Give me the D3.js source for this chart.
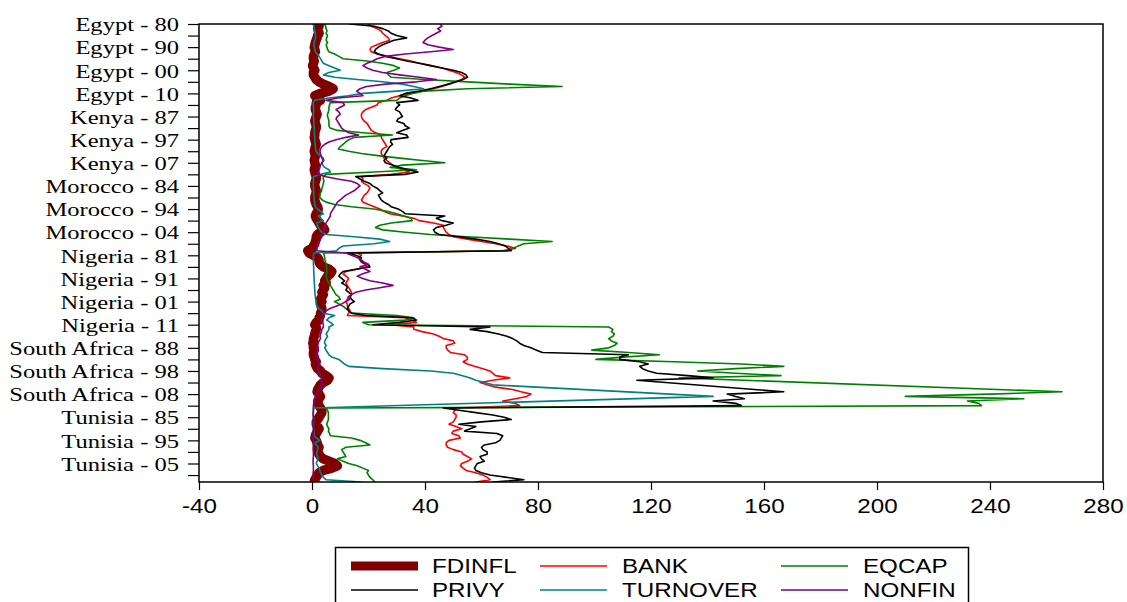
<!DOCTYPE html>
<html>
<head>
<meta charset="utf-8">
<script src="https://cdn.jsdelivr.net/npm/d3@7"></script>
<style>
  body { margin: 0; background: #fff; }
  svg { display: block; }
</style>
</head>
<body>
<svg id="chart" width="1127" height="602"></svg>
<script>
// Panel of country-year observations, one row per year
const countries = ["Egypt", "Kenya", "Morocco", "Nigeria", "South Africa", "Tunisia"];
const firstYear = [1980, 1981, 1980, 1980, 1980, 1981];
const lastYear  = [2013, 2012, 2012, 2012, 2013, 2013];

const xTicks = [-40, 0, 40, 80, 120, 160, 200, 240, 280];
const seriesNames = ["FDINFL", "BANK", "EQCAP", "PRIVY", "TURNOVER", "NONFIN"];

// values per series, one line per country (null = no observation)
const fdinfl = [
  2.5, 2.5, 2, 2.2, 2.5, 2, 1.8, 1.5, 1.2, 1, 0.8, 1, 1.2, 0.8, 0.5, 0.5, 0.8, 0.5, 0.2, 0.5, 1, 0.5, 0.5, 1, 1.5, 2.5, 4, 6, 7.5, 6, 3, 1, 2, 3,
  1.5, 1.5, 1.2, 1.2, 1.5, 1.8, 1.5, 1.2, 1, 1.2, 1.5, 1.5, 1.2, 1, 1, 0.8, 1, 1.2, 1.5, 1.2, 1, 0.8, 1, 1.2, 1, 0.8, 1, 1.2, 1, 0.8, 1, 1.2,
  1.5, 1.5, 1.2, 1, 1, 1.2, 1.5, 1.5, 1.2, 1, 1, 1.2, 1.5, 2, 2.2, 2, 1.5, 1.2, 1.5, 2, 2.5, 3, 4, 4.5, 3, 2, 1.5, 1.5, 1.2, 1, 0.5, 0, -1.5,
  -1, 0.5, 2, 2.5, 2.5, 3, 4, 6, 7, 6.5, 5.5, 5, 4.5, 5, 4, 4.5, 4, 3.5, 4, 3.5, 3, 3.5, 3, 3.2, 3.5, 3.5, 3, 3, 2.5, 2.5, 1.5, 1, 1.5,
  1.5, 1.2, 1, 0.8, 0.5, 0.5, 0.3, 0.5, 0.5, 0.8, 0.5, 0.5, 0.8, 1, 1.5, 1.2, 1.5, 2, 3, 3.5, 5, 6, 5.5, 4, 3, 2.5, 2, 1.8, 2.5, 3, 2.5, 2, 2.2, 2.5,
  3, 3.5, 3.5, 3, 2.5, 2, 1.5, 1.5, 2, 2.5, 2, 1.5, 1.2, 1, 1.5, 1.8, 2, 2.5, 2.2, 2, 2.5, 3, 4, 6, 8, 9, 7, 4, 2.5, 2, 1.5, 1, 0.8
];
const bank = [
  20, 21, 23, 24.5, 25, 26, 27, 27.5, 25, 23, 21, 20.5, 21, 23, 27, 31, 35, 38, 42, 46, 48.5, 51, 53, 54, 53, 51, 48, 46, 43, 39, 35, 31, 28, 26.5,
  23.5, 23, 21, 19, 18, 17.5, 17.5, 17.8, 18.5, 19.5, 20, 20.5, 21, 22.5, 24.5, 24.5, 25, 25.5, 26, 26.5, 25, 24.5, 24.5, 25, 25.5, 26.5, 27.5, 28.5, 30, 32, 34.5, 28,
  17.5, 18, 17.5, 18.5, 20, 20.5, 20, 19.5, 18.5, 18, 17.5, 18, 20, 22, 24, 25.5, 27.5, 32, 36, 38, 43, 46.5, 46.5, 47, 47.5, 48.5, 50, 55, 60, 65, 69, 72, 67.5,
  16, 17.5, 16.5, 17, 17.5, 19, 19.5, 16, 12, 11, 12, 13, 12.5, 12, 12.5, 13, 13.5, 14, 14, 13, 12.5, 12, 12.5, 12.5, 13, 13.5, 13, 12.5, 33, 35.5, 37, 27.5, 36,
  36, 39, 43, 45, 46.5, 50, 50.5, 47.5, 47.5, 48, 49, 54, 55, 55, 53.5, 55, 57.5, 60.5, 63, 64, 65, 70, 64, 59.5, 62, 65, 71, 74, 77.5, 76, 72, 67.5, 72, 73.5,
  51, 50.5, 50, 51, 51, 50.5, 50, 48.5, 51, 53, 50, 49.5, 52, 52.5, 48.5, 47.5, 47.5, 48, 50, 53, 53.5, 55, 56.5, 55, 53, 52.5, 53.5, 54.5, 58, 60.5, 62, 63, 58
];
const eqcap = [
  4.5, 4.8, 5, 5.3, 5, 5.5, 5.2, 5, 5.5, 5, 5.3, 5.5, 6, 8, 9.5, 11, 19.5, 25, 29, 31, 29, 26.5, 27, 28, 40, 55, 70, 88.5, 55, 40, 35.5, 33, 31, 30,
  6.5, 6.2, 6, 6, 5.8, 5.5, 5.5, 5.8, 6, 6, 6, 6.4, 9, 18, 28.5, 15, 13, 12, 11, 10, 9.3, 13, 17.5, 24, 31, 39, 47, 32, 27.6, 37, 22, 5,
  4, 4, 4.2, 4, 3.8, 3.5, 3.4, 3, 2.8, 2.8, 3.5, 5, 8, 14, 22, 26.5, 30, 32.5, 35, 35.5, 28, 24, 22.5, 25, 33, 42, 55, 70, 85, 75, 73, 71, 69,
  4, 4.3, 4.5, 4.6, 4.8, 5, 5.2, 5.2, 5.3, 5.2, 5, 5.2, 5.5, 6, 6.5, 7, 7.5, 8, 8.5, 9.5, 10, 8, 9.5, 11, 12, 13, 14, 30, 36, 33, 18, 20, 105,
  106.5, 106, 107, 106.5, 105, 106, 108, 107, 105, 99, 112, 123, 110, 100.5, 128, 152, 167, 150, 136.5, 150, 166, 130, null, null, null, null, null, 265.5, 240, 210, 252, 232, 236, 237,
  5, 5.5, 5.8, 5.8, 5.8, 5.8, 5.5, 5.2, 5.5, 6, 5.8, 6.2, 6.5, 14, 17, 19, 20.5, 12, 10.5, 11, 11.5, 12, 9, 11, 13, 16, 18, 20, 19.5, 20, 20.5, 21.5, 22.3
];
const privy = [
  13.5, 22, 25, 27, 28, 30, 33.5, 29, 27, 25, 23.5, 22.5, 22, 23.5, 26, 30, 33.5, 38, 42, 46, 50, 53, 54.5, 55, 53.5, 51, 48.5, 45, 42, 38, 33, 31, 35, 37.5,
  30, 31, 30, 29.5, 31, 31.5, 32, 30.5, 30, 32.5, 33, 34.5, 32, 30, 33.5, 34, 28, 27.8, 28.5, 27.5, 27, 26.5, 26, 25.5, 26.5, 25.5, 26, 28.5, 31, 34, 37.5, 33,
  15.5, 17, 18.5, 20.5, 21.5, 23, 24, 25, 23.5, 24, 24.5, 25.5, 27, 28, 30.5, 32, 33, 47, 44, 46, 50, 47.5, 44, 43, 43.5, 45, 52, 58, 63, 66, 68.5, 69.5, 70.5,
  12.5, 15.5, 17.5, 17, 18, 20, 20.5, 15.5, 11, 10, 9.5, 10.5, 11.5, 10.5, 12, 12.5, 12, 13, 14, 13.5, 14, 15, 13.5, 13, 12.5, 13, 14, 19, 35.5, 37, 31, 21.5, 63,
  56, 62, 66, 69, 71, 72.5, 73.5, 75, 77.5, 79.5, 81.5, 112, 109, 109, 116, 119, 116, 117, 119, 122, 133, 142, 115, null, null, null, null, 167, 147, 150, 153, 142, 150, 152,
  46.5, 52, 58, 64, 68, 70.5, 60, 52, 58, 56, 54, 65.5, 67.5, 67, 66.5, 65, 61, 60, 60.5, 62, 62, 59.5, 60, 61, 58.5, 58, 57.5, 58, 60, 63, 69, 75, 64
];
const turnover = [
  0.5, 0.6, 0.8, 1, 1.2, 1.3, 1.2, 1, 0.8, 0.7, 0.8, 1, 1.2, 1.8, 2.5, 3, 3.5, 4, 6, 8, 10, 6, 4, 8, 16, 25, 32, 36, 39.5, 30, 18, 12.8, 6, 1,
  0.5, 0.5, 0.5, 0.6, 0.6, 0.5, 0.5, 0.6, 0.6, 0.7, 0.7, 0.8, 0.8, 0.9, 0.9, 1, 1, 1, 1.1, 1.2, 1.3, 1.5, 2, 3, 4, 4.2, 3.5, 3.8, 4.5, 6, 6.5, 3,
  0.5, 0.5, 0.5, 0.5, 0.5, 0.5, 0.6, 0.6, 0.6, 0.7, 0.8, 0.9, 1, 1.2, 2, 3, 4, 2.2, 3, 4, 1.6, 2, 2.2, 2.8, 3.4, 5, 15, 24, 27.5, 22, 11, 9.5, 8.7,
  0.6, 0.5, 0.5, 0.5, 0.5, 0.5, 0.6, 0.6, 0.6, 0.7, 0.7, 0.7, 0.8, 0.8, 0.9, 0.9, 1, 1, 1.1, 1.2, 1.3, 1.4, 1.5, 1.8, 2.5, 3.5, 4, 8, 6, 5.2, 6.5, 7.5, 6,
  6, 5.5, 5, 5.5, 5, 4.5, 4.5, 5, 4.5, 5, 5.5, 6, 7, 9.5, 10.5, 11.5, 13, 25, 42, 50, 53, 56, 58, 61, 64, null, null, null, null, 142, null, null, null, null,
  0.5, 0.5, 0.5, 0.5, 0.5, 0.5, 0.5, 0.5, 0.5, 0.5, 0.6, 0.7, 0.8, 1.5, 2.8, 1, 1.5, 2.2, 2, 1.8, 1.6, 2, 2.2, 1.8, 1.5, 2, 2.5, 2.8, 3, 3.5, 4, 5, 17.5
];
const nonfin = [
  45.5, 46, 44.5, 45.5, 44, 42.5, 41, 40, 39.3, 41, 45, 50, 42, 33, 26, 23, 21.5, 19.5, 18, 19.5, 21.5, 25, 31, 38, 44, 37, 26, 19.3, 17, 15.8, 17, 18, 9, 5,
  11, 11.5, 10, 8.5, 9.5, 10, 9, 8.5, 9, 9.5, 10, 10.5, 11.5, 13, 16.5, 12, 8.5, 6, 4.5, 3.5, 3, 2.8, 3, 3.2, 3.5, 4, 3.5, 3, 2.8, 2.5, 2.2, 2,
  5, 9, 14, 16, 17, 16, 15, 13.5, 12, 11, 10, 9, 8.5, 8, 7.5, 7, 6.5, 6.5, 6, 5.5, 5, 4.5, 4.5, 4, 3.8, 3.5, 3.5, 3, 2.5, 2.2, 2, 1.8, 1.6,
  12, 14, 16, 17.5, 18.5, 20, 17, 19, 20.5, 18, 16, 18, 20.5, 25, 28.7, 24, 19, 15.5, 14, 12.8, 13.4, 12, 10.5, 8.5, 6.4, 5, 4, 3.5, 3.5, 3.3, 3.8, 4, 4,
  3.5, 3.3, 3, 2.8, 3, 2.5, 2.2, 2, 2.2, 2, 1.8, 1.5, 1.8, 2, 2.2, 2.5, 2.2, 2, 2, 2.5, 3, 3.5, 3.2, 3.5, 4, 3, 2.5, 2, 1.5, 1.2, 1, 0.8, 0.6, 0.5,
  0.5, 0.5, 0.4, 0.4, 0.5, 0.5, 0.4, 0.4, 0.5, 0.5, 0.5, 0.4, 0.4, 0.4, 0.5, 0.5, 0.5, 0.4, 0.4, 0.5, 0.5, 0.5, 0.4, 0.4, 0.4, 0.5, 0.5, 0.5, 0.4, 0.4, 0.5, 0.5, 0.5
];

// observation labels like "Egypt - 80"
const obsLabels = [];
countries.forEach((c, k) => {
  for (let yr = firstYear[k]; yr <= lastYear[k]; yr++) {
    obsLabels.push(c + " - " + String(yr % 100).padStart(2, "0"));
  }
});

const series = [
  { name: seriesNames[0], values: fdinfl,   color: "#800000", width: 9.5 },
  { name: seriesNames[1], values: bank,     color: "#ff0000", width: 1.6 },
  { name: seriesNames[2], values: eqcap,    color: "#008000", width: 1.6 },
  { name: seriesNames[3], values: privy,    color: "#000000", width: 1.6 },
  { name: seriesNames[4], values: turnover, color: "#008080", width: 1.6 },
  { name: seriesNames[5], values: nonfin,   color: "#800080", width: 1.6 }
];
series.forEach(s => {
  if (s.values.length !== obsLabels.length) console.warn(s.name + " has " + s.values.length + " values");
});

// the reference picture is stretched sideways, so text is too
const STRETCH = 1.24;
const sansFont = "'Liberation Sans', Arial, sans-serif";
const serifFont = "'Liberation Serif', 'Times New Roman', serif";

const plot = { left: 199, right: 1103, top: 24, bottom: 482 };

const x = d3.scaleLinear().domain([-40, 280]).range([plot.left, plot.right]);
const y = d3.scaleLinear().domain([0, obsLabels.length - 1]).range([plot.top, plot.bottom]);

const svg = d3.select("#chart");

svg.append("clipPath").attr("id", "plot-clip")
  .append("rect")
  .attr("x", plot.left).attr("y", plot.top)
  .attr("width", plot.right - plot.left).attr("height", plot.bottom - plot.top);

// lines, skipping missing observations (the gaps get joined)
const line = d3.line()
  .x(d => x(d.v))
  .y(d => y(d.i));

svg.append("g")
  .attr("clip-path", "url(#plot-clip)")
  .selectAll("path")
  .data(series)
  .enter()
  .append("path")
  .attr("fill", "none")
  .attr("stroke", d => d.color)
  .attr("stroke-width", d => d.width)
  .attr("stroke-linejoin", "round")
  .attr("stroke-linecap", "round")
  .attr("d", d => line(d.values.map((v, i) => ({ i: i, v: v })).filter(p => p.v !== null)));

// frame
svg.append("rect")
  .attr("x", plot.left).attr("y", plot.top)
  .attr("width", plot.right - plot.left).attr("height", plot.bottom - plot.top)
  .attr("fill", "none")
  .attr("stroke", "#000")
  .attr("stroke-width", 1.5);

// y axis: a tick every 5 rows, a label every 10
const yAxis = d3.axisLeft(y)
  .tickValues(d3.range(0, obsLabels.length, 5))
  .tickFormat(i => (i % 10 === 0 ? obsLabels[i] : ""))
  .tickSize(11);

const gy = svg.append("g")
  .attr("transform", "translate(" + plot.left + ",0)")
  .call(yAxis);
gy.select(".domain").remove();
gy.selectAll(".tick line").attr("stroke", "#000").attr("stroke-width", 1.2);
gy.selectAll(".tick text")
  .attr("x", -20 / STRETCH)
  .attr("dy", "0.34em")
  .attr("transform", "scale(" + STRETCH + ",1)")
  .attr("fill", "#000")
  .style("font-family", serifFont)
  .style("font-size", "19.8px");

// x axis
const xAxis = d3.axisBottom(x)
  .tickValues(xTicks)
  .tickFormat(d => String(d))
  .tickSize(8);

const gx = svg.append("g")
  .attr("transform", "translate(0," + plot.bottom + ")")
  .call(xAxis);
gx.select(".domain").remove();
gx.selectAll(".tick line").attr("stroke", "#000").attr("stroke-width", 1.2);
gx.selectAll(".tick text")
  .attr("y", 31)
  .attr("dy", null)
  .attr("transform", "scale(" + STRETCH + ",1)")
  .attr("fill", "#000")
  .style("font-family", sansFont)
  .style("font-size", "19.5px");

// legend, three columns by two rows
const legendCols = [351, 540, 781];
const legendRows = [566, 590];
const sampleLen = 67;
const textOffset = [81, 82, 82];

svg.append("rect")
  .attr("x", 335.5).attr("y", 547.5)
  .attr("width", 633).attr("height", 80)
  .attr("fill", "#fff")
  .attr("stroke", "#000")
  .attr("stroke-width", 1.5);

const items = svg.selectAll(".legend-item")
  .data(series)
  .enter()
  .append("g")
  .attr("class", "legend-item")
  .attr("transform", (d, i) => "translate(" + legendCols[i % 3] + "," + legendRows[Math.floor(i / 3)] + ")");

items.append("line")
  .attr("x1", 0).attr("x2", sampleLen)
  .attr("y1", 0).attr("y2", 0)
  .attr("stroke", d => d.color)
  .attr("stroke-width", d => (d.width > 2 ? 9 : 1.6));

items.append("text")
  .attr("x", (d, i) => textOffset[i % 3] / STRETCH)
  .attr("y", 7)
  .attr("transform", "scale(" + STRETCH + ",1)")
  .attr("fill", "#000")
  .style("font-family", sansFont)
  .style("font-size", "19.5px")
  .text(d => d.name);
</script>
</body>
</html>
